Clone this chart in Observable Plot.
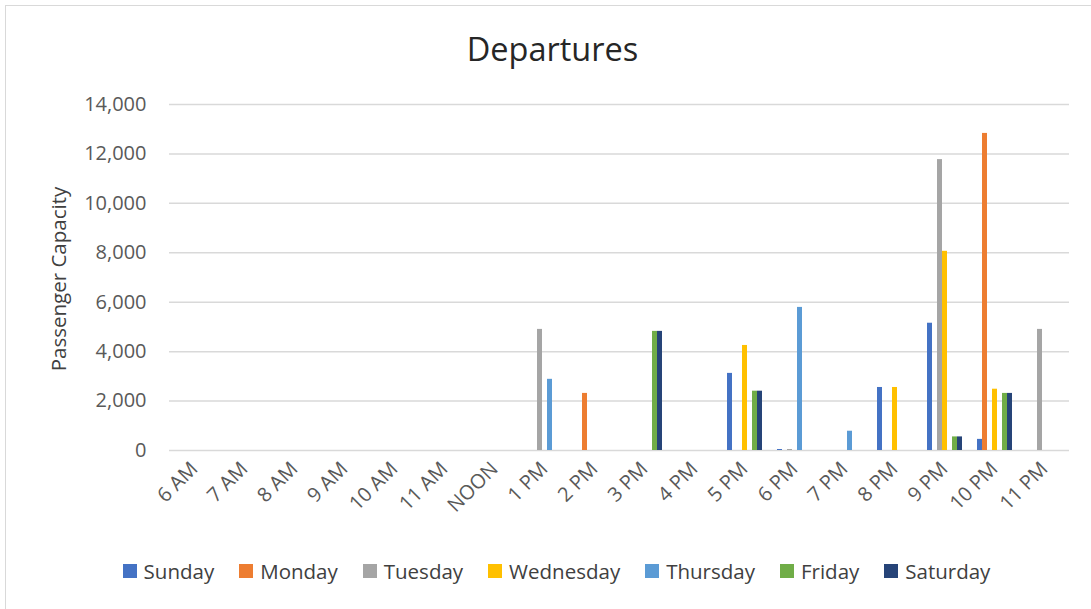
<!DOCTYPE html>
<html>
<head>
<meta charset="utf-8">
<script src="https://cdn.jsdelivr.net/npm/d3@7"></script>
<script src="https://cdn.jsdelivr.net/npm/@observablehq/plot@0.6"></script>
<style>
  html, body { margin: 0; padding: 0; background: #fff; overflow: hidden; }
  #wrap { position: relative; width: 1091px; height: 609px; overflow: hidden; font-family: "Open Sans", sans-serif; }
  #border { position: absolute; left: 5px; top: 5px; width: 1100px; height: 620px; border: 1.5px solid #d9d9d9; box-sizing: border-box; }
  #title { position: absolute; left: 7px; width: 1091px; top: 33px; text-align: center; font-size: 32.5px; color: #262626; line-height: 1; }
  #ylabel { position: absolute; left: 58px; top: 279px; transform: translate(-50%, -50%) rotate(-90deg); white-space: nowrap; font-size: 20.5px; color: #404040; line-height: 1; }
  #chart { position: absolute; left: 0; top: 0; }
  #legend { position: absolute; left: 11px; width: 1091px; top: 557px; display: flex; justify-content: center; font-size: 20.5px; color: #404040; }
  .item { display: flex; align-items: center; margin: 0 12.5px; }
  .sw { width: 14px; height: 14px; margin-right: 7px; }
</style>
</head>
<body>
<div id="wrap">
  <div id="border"></div>
  <div id="chart"></div>
  <div id="title">Departures</div>
  <div id="ylabel">Passenger Capacity</div>
  <div id="legend"></div>
</div>
<script>
const hours = ["6 AM","7 AM","8 AM","9 AM","10 AM","11 AM","NOON","1 PM","2 PM","3 PM","4 PM","5 PM","6 PM","7 PM","8 PM","9 PM","10 PM","11 PM"];
const days = ["Sunday","Monday","Tuesday","Wednesday","Thursday","Friday","Saturday"];
const colors = ["#4472C4","#ED7D31","#A5A5A5","#FFC000","#5B9BD5","#70AD47","#264478"];
const yTicks = [0,2000,4000,6000,8000,10000,12000,14000];

//                 6A 7A 8A 9A 10A 11A NOON 1P  2P    3P   4P  5P    6P   7P   8P    9P     10P    11P
const sunday    = [0, 0, 0, 0, 0,  0,  0,   0,    0,    0,    0, 3120, 40,  0,   2550, 5150,  450,   0];
const monday    = [0, 0, 0, 0, 0,  0,  0,   0,    2310, 0,    0, 0,    0,   0,   0,    0,     12830, 0];
const tuesday   = [0, 0, 0, 0, 0,  0,  0,   4900, 0,    0,    0, 0,    40,  0,   0,    11770, 0,     4900];
const wednesday = [0, 0, 0, 0, 0,  0,  0,   0,    0,    0,    0, 4250, 0,   0,   2550, 8060,  2480,  0];
const thursday  = [0, 0, 0, 0, 0,  0,  0,   2880, 0,    0,    0, 0,    5790, 780, 0,   0,     0,     0];
const friday    = [0, 0, 0, 0, 0,  0,  0,   0,    0,    4820, 0, 2400, 0,   0,   0,    550,   2310,  0];
const saturday  = [0, 0, 0, 0, 0,  0,  0,   0,    0,    4820, 0, 2400, 0,   0,   0,    550,   2310,  0];

const series = [sunday, monday, tuesday, wednesday, thursday, friday, saturday];
const data = hours.flatMap((h, i) => days.map((d, j) => ({hour: h, day: d, value: series[j][i]})));

const chart = Plot.plot({
  width: 1091,
  height: 609,
  marginTop: 104,
  marginBottom: 159,
  marginLeft: 168,
  marginRight: 21,
  style: {fontFamily: "Open Sans, sans-serif", fontSize: "20px", color: "#595959", background: "transparent"},
  fx: {domain: hours, padding: 0, label: null},
  x: {domain: days, paddingInner: 0, paddingOuter: 0.667, axis: null},
  y: {domain: [0, 14000], label: null},
  color: {domain: days, range: colors},
  marks: [
    Plot.gridY(yTicks, {stroke: "#d9d9d9", strokeOpacity: 1, strokeWidth: 1.5}),
    Plot.axisY(yTicks, {tickSize: 0, tickPadding: 23, tickFormat: d3.format(","), fontSize: 20, fill: "#595959", label: null}),
    Plot.axisFx({anchor: "bottom", tickRotate: -45, tickSize: 0, tickPadding: 15, fontSize: 20, fill: "#595959", label: null}),
    Plot.barY(data, {fx: "hour", x: "day", y: "value", fill: "day"})
  ]
});
document.getElementById("chart").appendChild(chart);

const legend = document.getElementById("legend");
days.forEach((d, i) => {
  const it = document.createElement("div");
  it.className = "item";
  const sw = document.createElement("div");
  sw.className = "sw";
  sw.style.background = colors[i];
  const t = document.createElement("span");
  t.textContent = d;
  it.appendChild(sw);
  it.appendChild(t);
  legend.appendChild(it);
});
</script>
</body>
</html>
